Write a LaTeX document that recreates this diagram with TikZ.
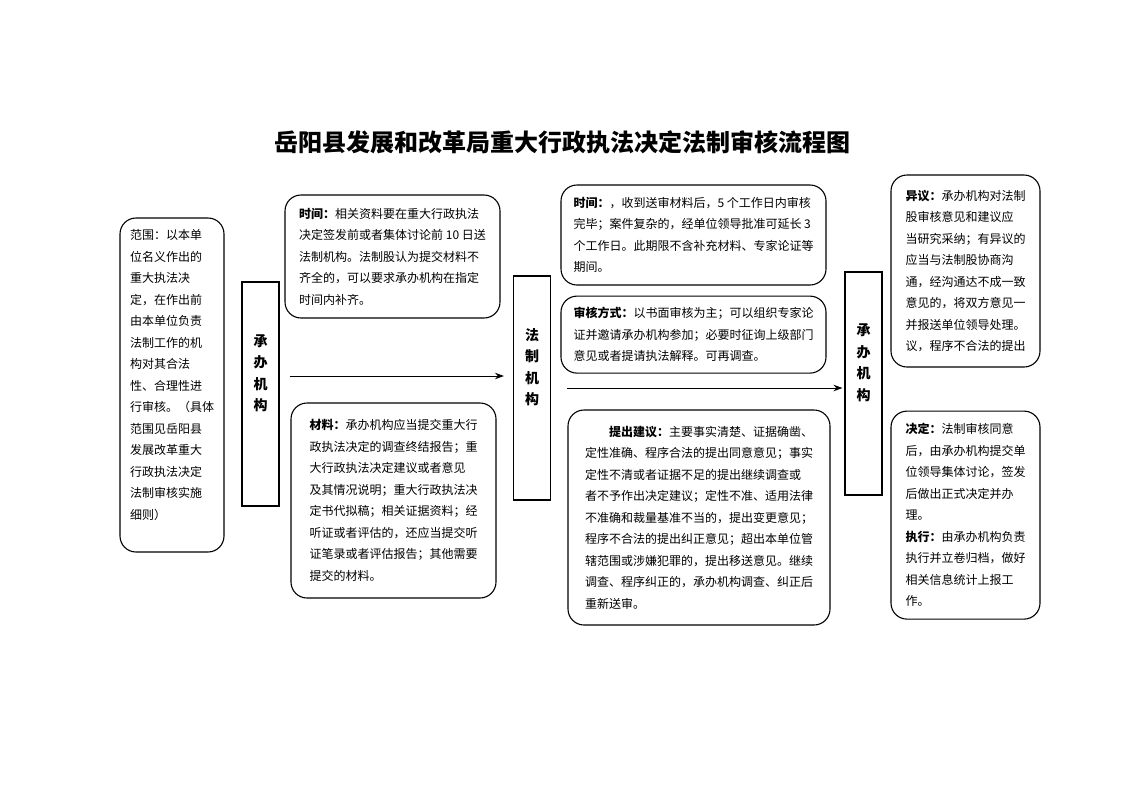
\documentclass[tikz,border=0pt]{standalone}
\usepackage{fontspec}
\setmainfont{Noto Sans CJK SC}
\usetikzlibrary{arrows.meta,positioning}
\tikzset{
    %Define standard arrow tip
    >={Stealth[length=9pt,width=6.5pt]},
    %Define style for boxes
    infobox/.style={
           rectangle,
           rounded corners=16pt,
           draw=black, line width=1.1pt,
           inner sep=0pt,
           align=left,
           font=\fontsize{12}{21.5}\selectfont},
    unitbox/.style={
           rectangle,
           draw=black, line width=1.1pt,
           minimum width=37pt,
           inner sep=0pt,
           align=center,
           font=\bfseries\fontsize{14}{21.5}\selectfont},
    % Define arrow style
    pil/.style={
           ->,
           line width=1pt},
}
\begin{document}
\begin{tikzpicture}[x=1pt,y=-1pt]
\useasboundingbox (0,0) rectangle (1122,793);
\node[font=\bfseries\fontsize{24}{28}\selectfont](title) at (562,142){岳阳县发展和改革局重大行政执法决定法制审核流程图};

\node[infobox, minimum width=104pt, minimum height=334pt](scope) at (172,385){范围：以本单\\位名义作出的\\重大执法决\\定，在作出前\\由本单位负责\\法制工作的机\\构对其合法\\性、合理性进\\行审核。（具体\\范围见岳阳县\\发展改革重大\\行政执法决定\\法制审核实施\\细则）\\\mbox{}};
\node[unitbox, minimum height=224pt](cb1) at (260.5,394){承\\办\\机\\构\\\mbox{}\\\mbox{}};
\node[infobox, minimum width=215pt, minimum height=123pt](time1) at (392.5,256.5){\textbf{时间：}相关资料要在重大行政执法\\决定签发前或者集体讨论前 10 日送\\法制机构。法制股认为提交材料不\\齐全的，可以要求承办机构在指定\\时间内补齐。};
\node[infobox, minimum width=205pt, minimum height=195pt](material) at (393.5,500.5){\textbf{材料：}承办机构应当提交重大行\\政执法决定的调查终结报告；重\\大行政执法决定建议或者意见\\及其情况说明；重大行政执法决\\定书代拟稿；相关证据资料；经\\听证或者评估的，还应当提交听\\证笔录或者评估报告；其他需要\\提交的材料。};

\node[unitbox, minimum height=224pt](fz) at (532,388){法\\制\\机\\构\\\mbox{}\\\mbox{}};
\node[infobox, minimum width=265pt, minimum height=100pt](time2) at (693.5,235){\textbf{时间：}，收到送审材料后，5 个工作日内审核\\完毕；案件复杂的，经单位领导批准可延长 3\\个工作日。此期限不含补充材料、专家论证等\\期间。};
\node[infobox, minimum width=265pt, minimum height=77pt, below=10pt of time2](method){\textbf{审核方式：}以书面审核为主；可以组织专家论\\证并邀请承办机构参加；必要时征询上级部门\\意见或者提请执法解释。可再调查。};
\node[infobox, minimum width=262pt, minimum height=215pt](advice) at (699,517.5){\hspace{2em}\textbf{提出建议：}主要事实清楚、证据确凿、\\定性准确、程序合法的提出同意意见；事实\\定性不清或者证据不足的提出继续调查或\\者不予作出决定建议；定性不准、适用法律\\不准确和裁量基准不当的，提出变更意见；\\程序不合法的提出纠正意见；超出本单位管\\辖范围或涉嫌犯罪的，提出移送意见。继续\\调查、程序纠正的，承办机构调查、纠正后\\重新送审。};

\node[unitbox, minimum height=223pt](cb2) at (863.5,383.5){承\\办\\机\\构\\\mbox{}\\\mbox{}};
\node[infobox, minimum width=149pt, minimum height=192pt](objection) at (965.5,271){\textbf{异议：}承办机构对法制\\股审核意见和建议应\\当研究采纳；有异议的\\应当与法制股协商沟\\通，经沟通达不成一致\\意见的，将双方意见一\\并报送单位领导处理。\\议，程序不合法的提出};
\node[infobox, minimum width=149pt, minimum height=208pt, below=43pt of objection](decision){\textbf{决定：}法制审核同意\\后，由承办机构提交单\\位领导集体讨论，签发\\后做出正式决定并办\\理。\\\textbf{执行：}由承办机构负责\\执行并立卷归档，做好\\相关信息统计上报工\\作。};

\draw[pil, shorten >=9pt] ([xshift=10pt,yshift=18pt]cb1.east) coordinate (a1) -- (fz.west |- a1);
\draw[pil, shorten >=2pt] ([xshift=16pt]fz.east) coordinate (a2) -- (cb2.west |- a2);
\end{tikzpicture}
\end{document}
